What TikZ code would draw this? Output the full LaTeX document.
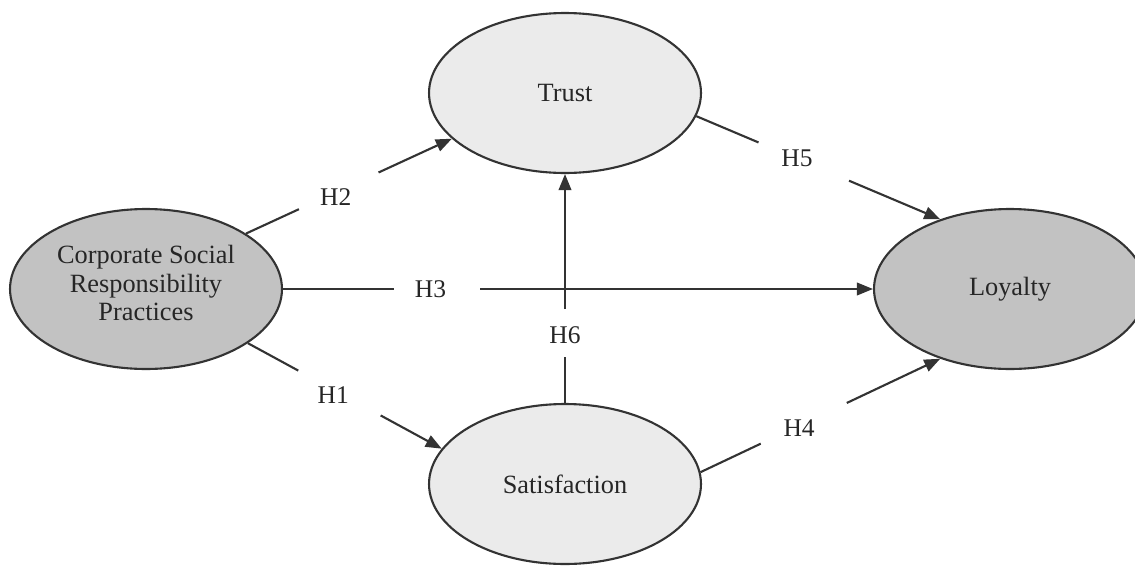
\documentclass[tikz,border=0pt]{standalone}
\usepackage{fontspec}
\setmainfont{Liberation Serif}
\usetikzlibrary{shapes.geometric,arrows.meta}
\definecolor{inkc}{HTML}{333333}
\definecolor{darkfill}{HTML}{C2C2C2}
\definecolor{lightfill}{HTML}{EBEBEB}
\definecolor{txtc}{HTML}{262626}
\begin{document}
\begin{tikzpicture}[x=0.02cm,y=-0.02cm,
  construct/.style={ellipse,draw=inkc,line width=1.2pt,inner sep=0pt,
    minimum width=5.44cm,minimum height=3.2cm,text=txtc,
    font=\fontsize{15}{16}\selectfont,align=center},
  exo/.style={construct,fill=darkfill},
  endo/.style={construct,fill=lightfill},
  cname/.style={text=txtc,font=\fontsize{15}{16}\selectfont,align=center,inner sep=0pt},
  link/.style={draw=inkc,line width=1.2pt},
  arrowlink/.style={link,-{Triangle[length=0.32cm,width=0.25cm]}},
  hyp/.style={text=txtc,font=\fontsize{14.5}{16}\selectfont,inner sep=0pt}]
\useasboundingbox (0,0) rectangle (1135,565);

% constructs
\node[exo,label={[cname,yshift=0.12cm]center:Corporate Social\\Responsibility\\Practices}]
  (csr) at (146,289) {};
\node[endo] (trust) at (565,93)  {Trust};
\node[endo] (sat)   at (565,484) {Satisfaction};
\node[exo]  (loy)   at (1010,289) {Loyalty};

% H2: CSR -> Trust
\path (csr.29) -- (trust.202)
  coordinate[pos=0.257] (h2a) coordinate[pos=0.644] (h2b)
  node[hyp,pos=0.436,yshift=-0.1cm] (h2) {H2};
\draw[link] (csr.29) -- (h2a);
\draw[arrowlink] (h2b) -- (trust.202);

% H1: CSR -> Satisfaction
\path (csr.-28) -- (sat.164)
  coordinate[pos=0.26] (h1a) coordinate[pos=0.685] (h1b)
  node[hyp,pos=0.44,yshift=-0.1cm] (h1) {H1};
\draw[link] (csr.-28) -- (h1a);
\draw[arrowlink] (h1b) -- (sat.164);

% H3: CSR -> Loyalty
\path (csr.east) -- (loy.west)
  coordinate[pos=0.1875] (h3a) coordinate[pos=0.334] (h3b)
  node[hyp,pos=0.25] (h3) {H3};
\draw[link] (csr.east) -- (h3a);
\draw[arrowlink] (h3b) -- (loy.west);

% H5: Trust -> Loyalty
\path (trust.-10) -- (loy.135)
  coordinate[pos=0.255] (h5a) coordinate[pos=0.626] (h5b)
  node[hyp,pos=0.413] (h5) {H5};
\draw[link] (trust.-10) -- (h5a);
\draw[arrowlink] (h5b) -- (loy.135);

% H4: Satisfaction -> Loyalty
\path (sat.5) -- (loy.225)
  coordinate[pos=0.251] (h4a) coordinate[pos=0.61] (h4b)
  node[hyp,pos=0.411,yshift=-0.06cm] (h4) {H4};
\draw[link] (sat.5) -- (h4a);
\draw[arrowlink] (h4b) -- (loy.225);

% H6: Satisfaction -> Trust
\path (sat.north) -- (trust.south)
  coordinate[pos=0.199] (h6a) coordinate[pos=0.41] (h6b)
  node[hyp,pos=0.296] (h6) {H6};
\draw[link] (sat.north) -- (h6a);
\draw[arrowlink] (h6b) -- (trust.south);
\end{tikzpicture}
\end{document}
